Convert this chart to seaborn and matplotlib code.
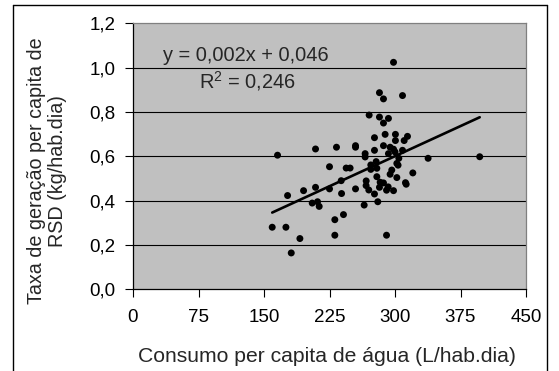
import matplotlib
matplotlib.use("Agg")
import matplotlib.pyplot as plt
from matplotlib.lines import Line2D
import seaborn as sns
import pandas as pd

# Consumo per capita de água (L/hab.dia)
consumo = [298.3, 282.2, 286.8, 308.6, 270.4, 282.2, 292.5, 286.8, 276.5, 288.7,
           300.5, 314.3, 300.5, 310.5, 209.0, 233.0, 254.8, 254.8, 276.5, 286.8,
           294.4, 298.3, 308.6, 292.5, 265.8, 265.8, 165.5, 337.9, 397.0, 304.4,
           302.1, 278.4, 272.3, 279.2, 272.3, 225.0, 244.1, 248.6, 296.3, 294.4,
           302.1, 320.4, 279.2, 238.4, 267.0, 266.9, 283.0, 286.8, 312.0, 312.8,
           282.2, 292.2, 270.0, 290.3, 298.3, 276.5, 254.8, 238.8, 225.0, 209.0,
           195.3, 177.0, 205.2, 211.3, 213.2, 264.7, 280.3, 241.0, 231.1, 159.4,
           175.1, 191.1, 231.1, 290.3, 181.2, 300.0, 303.5]
# Taxa de geração per capita de RSD (kg/hab.dia)
taxa = [1.024, 0.887, 0.859, 0.874, 0.786, 0.777, 0.771, 0.750, 0.684, 0.699,
        0.699, 0.690, 0.671, 0.671, 0.633, 0.641, 0.648, 0.641, 0.627, 0.648,
        0.641, 0.632, 0.627, 0.612, 0.612, 0.597, 0.605, 0.591, 0.598, 0.591,
        0.568, 0.576, 0.561, 0.546, 0.541, 0.553, 0.547, 0.547, 0.538, 0.519,
        0.504, 0.525, 0.508, 0.490, 0.489, 0.468, 0.483, 0.480, 0.481, 0.474,
        0.460, 0.462, 0.448, 0.447, 0.445, 0.430, 0.453, 0.432, 0.453, 0.460,
        0.445, 0.423, 0.389, 0.395, 0.374, 0.380, 0.395, 0.337, 0.314, 0.280,
        0.280, 0.229, 0.244, 0.244, 0.164, 0.620, 0.560]

x_ticks = [0, 75, 150, 225, 300, 375, 450]
y_ticks = [0.0, 0.2, 0.4, 0.6, 0.8, 1.0, 1.2]
x_label = "Consumo per capita de água (L/hab.dia)"
y_label = "Taxa de geração per capita de\nRSD (kg/hab.dia)"
eq_text = "y = 0,002x + 0,046"
r2_text = "R$^2$ = 0,246"

df = pd.DataFrame({"consumo": consumo, "taxa": taxa})

sns.set_style("white")
plt.rcParams["font.family"] = ["Liberation Sans", "DejaVu Sans"]
plt.rcParams["mathtext.fontset"] = "custom"
plt.rcParams["mathtext.rm"] = "Liberation Sans"

W, H = 559, 371
fig = plt.figure(figsize=(W / 100, H / 100), dpi=100)
fig.patch.set_facecolor("white")
x0, x1, ytop, ybot = 133, 526, 23.3, 289.3
ax = fig.add_axes([x0 / W, 1 - ybot / H, (x1 - x0) / W, (ybot - ytop) / H])
ax.set_facecolor("#C0C0C0")

for v in y_ticks[1:-1]:
    ax.axhline(v, color="#000000", lw=0.8, zorder=1)

sns.regplot(data=df, x="consumo", y="taxa", ax=ax, ci=None, truncate=True,
            scatter_kws=dict(s=25, color="black", edgecolor="none", alpha=1, zorder=3),
            line_kws=dict(color="black", lw=1.9, zorder=4))

ax.set_xlim(0, 450)
ax.set_ylim(0, 1.2)
ax.set_xticks(x_ticks)
ax.set_yticks(y_ticks)
ax.set_xticklabels([str(t) for t in x_ticks])
ax.set_yticklabels([f"{t:.1f}".replace(".", ",") for t in y_ticks])
ax.tick_params(axis="both", direction="out", length=5.5, width=0.8, color="black",
               labelsize=13.5, colors="black")
ax.tick_params(axis="y", pad=7)
ax.tick_params(axis="x", pad=9)
ax.tick_params(left=True, bottom=True)
ax.set_xlabel("")
ax.set_ylabel("")

for side in ["left", "bottom"]:
    ax.spines[side].set_color("black")
    ax.spines[side].set_linewidth(0.9)
for side in ["top", "right"]:
    ax.spines[side].set_visible(True)
    ax.spines[side].set_color("#808080")
    ax.spines[side].set_linewidth(0.9)

ax.text(34.3, 1.031, eq_text, fontsize=14.4, va="baseline", ha="left", zorder=5)
ax.text(76.1, 0.907, r2_text, fontsize=14.4, va="baseline", ha="left", zorder=5)

fig.text(137.5 / W, 1 - 361.7 / H, x_label, fontsize=15.2, ha="left", va="baseline")
fig.text(47 / W, 1 - 171 / H, y_label, fontsize=14.2, ha="center", va="center",
         rotation=90, multialignment="center", linespacing=1.1)

# outer frame
bl, br, bt = 12.7 / W, 547 / W, 1 - 5 / H
fig.add_artist(Line2D([bl, bl], [-0.01, bt], transform=fig.transFigure, color="black", lw=1))
fig.add_artist(Line2D([br, br], [-0.01, bt], transform=fig.transFigure, color="black", lw=1))
fig.add_artist(Line2D([bl, br], [bt, bt], transform=fig.transFigure, color="black", lw=1))

fig.savefig("out.png", dpi=100)
